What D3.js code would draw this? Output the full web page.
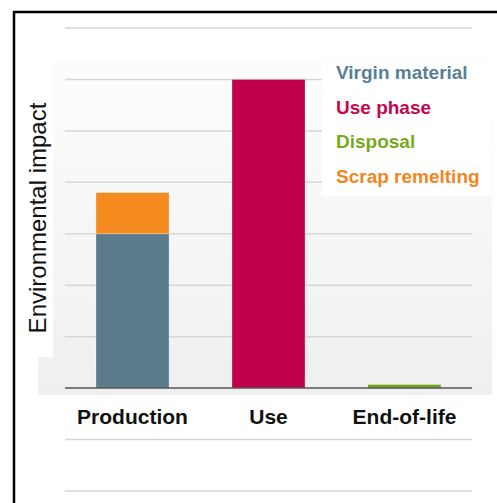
<!DOCTYPE html>
<html>
<head>
<meta charset="utf-8">
<script src="https://cdn.jsdelivr.net/npm/d3@7/dist/d3.min.js"></script>
<style>
  html, body { margin: 0; padding: 0; background: #fff; }
  svg { display: block; font-family: "Liberation Sans", Arial, sans-serif; }
</style>
</head>
<body>
<svg id="chart" width="497" height="503"></svg>
<script>
// ---- data ----
const categories = ["Production", "Use", "End-of-life"];
const seriesNames = ["Virgin material", "Use phase", "Disposal", "Scrap remelting"];
const virginMaterial = [3, 0, 0];
const usePhase = [0, 6, 0];
const disposal = [0, 0, 0.07];
const scrapRemelting = [0.8, 0, 0];
const gridTicks = [-2, -1, 1, 2, 3, 4, 5, 6, 7];
const yTitle = "Environmental impact";

const barColors = ["#5b7b8c", "#c0004a", "#6fa31a", "#f58a1f"];
const textColors = ["#5a7f96", "#c3084e", "#76a91c", "#f3851c"];

// ---- setup ----
const svg = d3.select("#chart");
const W = 497, H = 503;

const rows = categories.map((c, i) => ({
  cat: c,
  "Virgin material": virginMaterial[i],
  "Use phase": usePhase[i],
  "Disposal": disposal[i],
  "Scrap remelting": scrapRemelting[i]
}));
const stacked = d3.stack().keys(seriesNames)(rows);

const x = d3.scaleBand().domain(categories).range([65, 472])
  .paddingInner(0.463).paddingOuter(0.228);
const y = d3.scaleLinear().domain([-2, 7]).range([491, 28]);

// defs: gradient background
const defs = svg.append("defs");
const grad = defs.append("linearGradient").attr("id", "bg")
  .attr("x1", 0).attr("y1", 0).attr("x2", 0).attr("y2", 1);
grad.append("stop").attr("offset", "0%").attr("stop-color", "#fdfdfd");
grad.append("stop").attr("offset", "100%").attr("stop-color", "#efefef");

// plot background panel
svg.append("rect").attr("x", 38).attr("y", 60).attr("width", 454).attr("height", 335)
  .attr("fill", "url(#bg)");
// white box behind y title
svg.append("rect").attr("x", 38).attr("y", 60).attr("width", 15).attr("height", 297)
  .attr("fill", "#fff");

// gridlines
svg.append("g").selectAll("line").data(gridTicks).join("line")
  .attr("x1", 65).attr("x2", 472)
  .attr("y1", d => y(d)).attr("y2", d => y(d))
  .attr("stroke", "#d6d6d6").attr("stroke-width", 1.5);

// bars
svg.append("g").selectAll("g").data(stacked).join("g")
  .attr("fill", (d, i) => barColors[i])
  .selectAll("rect").data(d => d.filter(p => p[1] - p[0] > 0)).join("rect")
  .attr("x", d => x(d.data.cat))
  .attr("width", x.bandwidth())
  .attr("y", d => y(d[1]))
  .attr("height", d => y(d[0]) - y(d[1]))
  .attr("stroke", "rgba(255,255,255,0.35)").attr("stroke-width", 0.8);

// baseline axis
svg.append("line").attr("x1", 65).attr("x2", 472).attr("y1", y(0)).attr("y2", y(0))
  .attr("stroke", "#555").attr("stroke-width", 1.5);

// category labels via axis
const xAxis = svg.append("g").attr("transform", `translate(0,${y(0)})`)
  .call(d3.axisBottom(x).tickSize(0).tickPadding(21));
xAxis.select(".domain").remove();
xAxis.selectAll("text")
  .attr("font-family", "'Liberation Sans', Arial, sans-serif")
  .attr("font-size", 21).attr("font-weight", "bold").attr("fill", "#111");

// y title
svg.append("text")
  .attr("transform", "translate(46,218) rotate(-90)")
  .attr("text-anchor", "middle")
  .attr("font-size", 24).attr("fill", "#111")
  .text(yTitle);

// legend
svg.append("rect").attr("x", 322).attr("y", 62).attr("width", 169).attr("height", 134)
  .attr("fill", "#fff");
svg.append("g").selectAll("text").data(seriesNames).join("text")
  .attr("x", 336).attr("y", (d, i) => 79 + i * 34.5)
  .attr("font-size", 19).attr("font-weight", "bold")
  .attr("fill", (d, i) => textColors[i])
  .text(d => d);

// frame
svg.append("path").attr("d", `M14,${H} V12 H${W}`)
  .attr("fill", "none").attr("stroke", "#000").attr("stroke-width", 2.5);
</script>
</body>
</html>
